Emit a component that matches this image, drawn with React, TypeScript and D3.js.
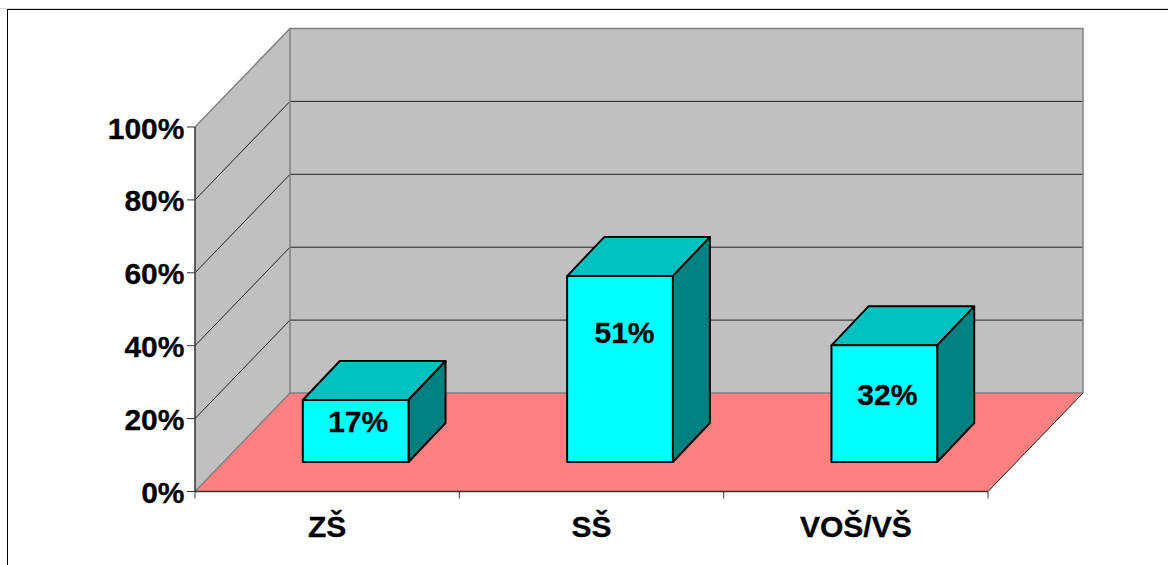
import React from "react";
import * as d3 from "d3";

const categories = ["ZŠ", "SŠ", "VOŠ/VŠ"];
const values = [17, 51, 32];
const yTicks = [0, 20, 40, 60, 80, 100];
const labelShift = [2.5, 4.5, 3];
const labelDrop = [31.5, 67, 60];

const FONT = "'Liberation Sans', Arial, sans-serif";
const left = 195, right = 988, bottom = 491.5, top = 127;
const depthX = 95, depthY = 98.5;
const barDepthX = 37, barDepthY = 39;
const offX = 28.5, offY = 29.5;

const y = d3.scaleLinear().domain([0, 100]).range([bottom, top]);
const x = d3.scaleBand<string>().domain(categories).range([left, right]).paddingInner(0.6).paddingOuter(0.3);
const edges = d3.scaleBand<string>().domain(categories).range([left, right]);
const poly = (p: [number, number][]) => d3.line()(p) + "Z";

export default function App() {
  const gray = "#808080";
  return (
    <svg width={1168} height={565} style={{ position: "absolute", left: 0, top: 0, background: "#fff" }}>
      <line x1={0} x2={1168} y1={8.5} y2={8.5} stroke="#dcdcdc" strokeWidth={1} />
      <line x1={7} x2={1168} y1={9.5} y2={9.5} stroke="#000" strokeWidth={1} />
      <line x1={7.5} x2={7.5} y1={9} y2={565} stroke="#000" strokeWidth={1} />

      {/* walls */}
      <path d={poly([[left, top], [left + depthX, top - depthY], [left + depthX, bottom - depthY], [left, bottom]])} fill="#c0c0c0" />
      <path d={poly([[left + depthX, top - depthY], [right + depthX, top - depthY], [right + depthX, bottom - depthY], [left + depthX, bottom - depthY]])} fill="#c0c0c0" />
      {/* floor */}
      <path d={poly([[left, bottom], [left + depthX, bottom - depthY], [right + depthX, bottom - depthY], [right, bottom]])} fill="#ff8080" />

      {/* gridlines */}
      {yTicks.filter(t => t > 0 && t < 100).map(t => (
        <g key={t} fill="none" stroke="#202020" strokeWidth={1}>
          <path d={`M${left},${y(t)}L${left + depthX},${y(t) - depthY}`} />
          <path d={`M${left + depthX},${y(t) - depthY}L${right + depthX},${y(t) - depthY}`} />
        </g>
      ))}

      {/* wall borders */}
      <g fill="none" stroke={gray} strokeWidth={1.5}>
        <path d={`M${left},${top}L${left + depthX},${top - depthY}L${right + depthX},${top - depthY}L${right + depthX},${bottom - depthY}`} />
        <path d={`M${left + depthX},${top - depthY}V${bottom - depthY}`} />
        <path d={`M${left},${bottom}L${left + depthX},${bottom - depthY}H${right + depthX}`} />
      </g>
      <path d={`M${right},${bottom}L${right + depthX},${bottom - depthY}`} stroke="#202020" strokeWidth={1} fill="none" />

      {/* axes */}
      <g stroke="#333" fill="none">
        <path d={`M${left},${top}V${bottom}`} strokeWidth={1.5} />
        <path d={`M${left},${bottom}H${right}`} strokeWidth={1.5} />
        {yTicks.map(t => <path key={t} d={`M${left - 8},${y(t)}H${left}`} strokeWidth={1} />)}
        {[left, ...categories.map(c => edges(c)! + edges.bandwidth())].map((px, i) => (
          <path key={i} d={`M${px},${bottom}V${bottom + 7}`} strokeWidth={1} />
        ))}
      </g>

      {/* bars */}
      {categories.map((c, i) => {
        const x0 = x(c)! + offX, x1 = x0 + x.bandwidth();
        const yb = bottom - offY, yt = y(values[i]) - offY;
        return (
          <g key={c} stroke="#000" strokeWidth={2} strokeLinejoin="round">
            <path d={poly([[x0, yt], [x0 + barDepthX, yt - barDepthY], [x1 + barDepthX, yt - barDepthY], [x1, yt]])} fill="#00c0c0" />
            <path d={poly([[x1, yt], [x1 + barDepthX, yt - barDepthY], [x1 + barDepthX, yb - barDepthY], [x1, yb]])} fill="#008080" />
            <path d={poly([[x0, yt], [x1, yt], [x1, yb], [x0, yb]])} fill="#00ffff" />
          </g>
        );
      })}

      {/* text */}
      <g fontFamily={FONT} fontWeight={700} fontSize={30} fill="#000" stroke="#000" strokeWidth={0.3}>
        {yTicks.map(t => (
          <text key={t} x={left - 10.5} y={y(t) + 11.5} textAnchor="end">{t}%</text>
        ))}
        {categories.map(c => (
          <text key={c} x={edges(c)! + edges.bandwidth() / 2} y={537} textAnchor="middle">{c}</text>
        ))}
        {categories.map((c, i) => (
          <text key={c} x={x(c)! + offX + x.bandwidth() / 2 + labelShift[i]} y={y(values[i]) - offY + labelDrop[i]} textAnchor="middle">
            {values[i]}%
          </text>
        ))}
      </g>
    </svg>
  );
}
